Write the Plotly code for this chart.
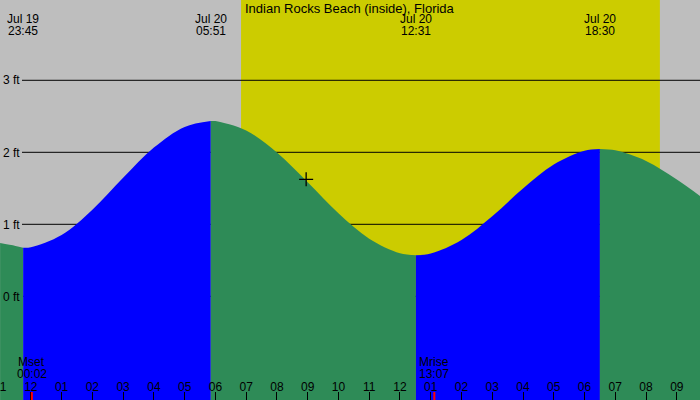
import plotly.graph_objects as go

# ---------------- data ----------------
curve_times = [
    "2024-07-19 23:00", "2024-07-19 23:30", "2024-07-19 23:45",
    "2024-07-20 00:00", "2024-07-20 01:00", "2024-07-20 02:00", "2024-07-20 03:00",
    "2024-07-20 04:00", "2024-07-20 05:00", "2024-07-20 05:51",
    "2024-07-20 06:00", "2024-07-20 07:00", "2024-07-20 08:00", "2024-07-20 09:00",
    "2024-07-20 10:00", "2024-07-20 11:00", "2024-07-20 12:00", "2024-07-20 12:31",
    "2024-07-20 13:00", "2024-07-20 14:00", "2024-07-20 15:00", "2024-07-20 16:00",
    "2024-07-20 17:00", "2024-07-20 18:00", "2024-07-20 18:30",
    "2024-07-20 19:00", "2024-07-20 20:00", "2024-07-20 21:00", "2024-07-20 22:00",
]
curve_ft = [
    0.74, 0.70, 0.675,
    0.682, 0.851, 1.203, 1.645,
    2.065, 2.352, 2.435,
    2.433, 2.301, 1.996, 1.583,
    1.152, 0.799, 0.597, 0.57,
    0.594, 0.783, 1.113, 1.496,
    1.829, 2.021, 2.046,
    2.027, 1.880, 1.621, 1.315,
]

extreme_times = ["2024-07-19 23:45", "2024-07-20 05:51", "2024-07-20 12:31", "2024-07-20 18:30"]
extreme_dates = ["Jul 19", "Jul 20", "Jul 20", "Jul 20"]
extreme_clock = ["23:45", "05:51", "12:31", "18:30"]

moon_times = ["2024-07-20 00:02", "2024-07-20 13:07"]
moon_names = ["Mset", "Mrise"]
moon_clock = ["00:02", "13:07"]

sun_times = ["2024-07-20 06:50", "2024-07-20 20:27"]  # sunrise, sunset

now_time = ["2024-07-20 08:57"]
now_ft = [1.625]

grid_ft = [0, 1, 2, 3]
grid_labels = ["0 ft", "1 ft", "2 ft", "3 ft"]

title = "Indian Rocks Beach (inside), Florida"
x_range = ["2024-07-19 22:59:50", "2024-07-20 21:45:15"]
y_range = [-1.44, 4.115]

# ---------------- styling ----------------
GRAY = "#BEBEBE"
YELLOW = "#CCCC00"
BLUE = "#0000FF"
GREEN = "#2E8B57"
FONT = "Liberation Sans, Arial, sans-serif"
W, H = 700, 400

fig = go.Figure()

# tide fill segments, split at extremes
idx = [curve_times.index(t) for t in extreme_times]
bounds = [0] + idx + [len(curve_times) - 1]
for a, b in zip(bounds[:-1], bounds[1:]):
    xs = curve_times[a:b + 1]
    ys = curve_ft[a:b + 1]
    color = BLUE if ys[-1] > ys[0] else GREEN
    fig.add_trace(go.Scatter(x=[xs[0], xs[-1]], y=[-3, -3], mode="lines",
                             line=dict(width=0), hoverinfo="skip", showlegend=False))
    fig.add_trace(go.Scatter(x=xs, y=ys, mode="lines",
                             line=dict(width=0, shape="spline", color=color),
                             fill="tonexty", fillcolor=color,
                             hoverinfo="skip", showlegend=False))

# current-time crosshair
fig.add_trace(go.Scatter(x=now_time, y=now_ft, mode="markers",
                         marker=dict(symbol="cross-thin", size=10,
                                     line=dict(width=1.3, color="black")),
                         hoverinfo="skip", showlegend=False))

shapes = []
# daylight
shapes.append(dict(type="rect", xref="x", yref="paper", x0=sun_times[0], x1=sun_times[1],
                   y0=0, y1=1, fillcolor=YELLOW, line=dict(width=0), layer="below"))
# grid lines
for g in grid_ft:
    shapes.append(dict(type="line", xref="paper", yref="y", x0=22 / W, x1=1, y0=g, y1=g,
                       line=dict(color="black", width=1), layer="below"))
# moon event ticks
for t in moon_times:
    shapes.append(dict(type="line", xref="x", yref="paper", x0=t, x1=t, y0=0, y1=8 / H,
                       line=dict(color="red", width=2), layer="above"))

annotations = []
annotations.append(dict(text=title, xref="paper", yref="paper", x=0.5, y=1 - 8 / H,
                        xanchor="center", yanchor="middle", showarrow=False,
                        font=dict(size=13, color="black", family=FONT)))
for t, d, c in zip(extreme_times, extreme_dates, extreme_clock):
    annotations.append(dict(text=d, xref="x", yref="paper", x=t, y=1 - 19 / H,
                            xanchor="center", yanchor="middle", showarrow=False,
                            font=dict(size=12, color="black", family=FONT)))
    annotations.append(dict(text=c, xref="x", yref="paper", x=t, y=1 - 31 / H,
                            xanchor="center", yanchor="middle", showarrow=False,
                            font=dict(size=12, color="black", family=FONT)))
for t, n, c in zip(moon_times, moon_names, moon_clock):
    annotations.append(dict(text=n, xref="x", yref="paper", x=t, y=1 - 362 / H,
                            xanchor="center", yanchor="middle", showarrow=False,
                            font=dict(size=12, color="black", family=FONT)))
    annotations.append(dict(text=c, xref="x", yref="paper", x=t, y=1 - 374 / H,
                            xanchor="center", yanchor="middle", showarrow=False,
                            font=dict(size=12, color="black", family=FONT)))

fig.update_layout(
    width=W, height=H,
    margin=dict(l=0, r=0, t=0, b=0, pad=0, autoexpand=False),
    paper_bgcolor=GRAY, plot_bgcolor=GRAY,
    font=dict(family=FONT, size=12, color="black"),
    shapes=shapes, annotations=annotations,
    showlegend=False,
    xaxis=dict(type="date", range=x_range, dtick=3600000, tickformat="%I",
               ticks="inside", ticklen=8, tickwidth=1, tickcolor="black",
               ticklabelposition="inside", ticklabeloverflow="allow",
               ticklabelstandoff=-2,
               automargin=False,
               showgrid=False, zeroline=False, showline=False,
               tickfont=dict(size=12, color="black", family=FONT)),
    yaxis=dict(range=y_range, tickmode="array", tickvals=grid_ft, ticktext=grid_labels,
               ticks="", ticklabelposition="inside", ticklabeloverflow="allow",
               automargin=False,
               showgrid=False, zeroline=False, showline=False,
               tickfont=dict(size=12, color="black", family=FONT)),
)

fig.write_html("out.html")
